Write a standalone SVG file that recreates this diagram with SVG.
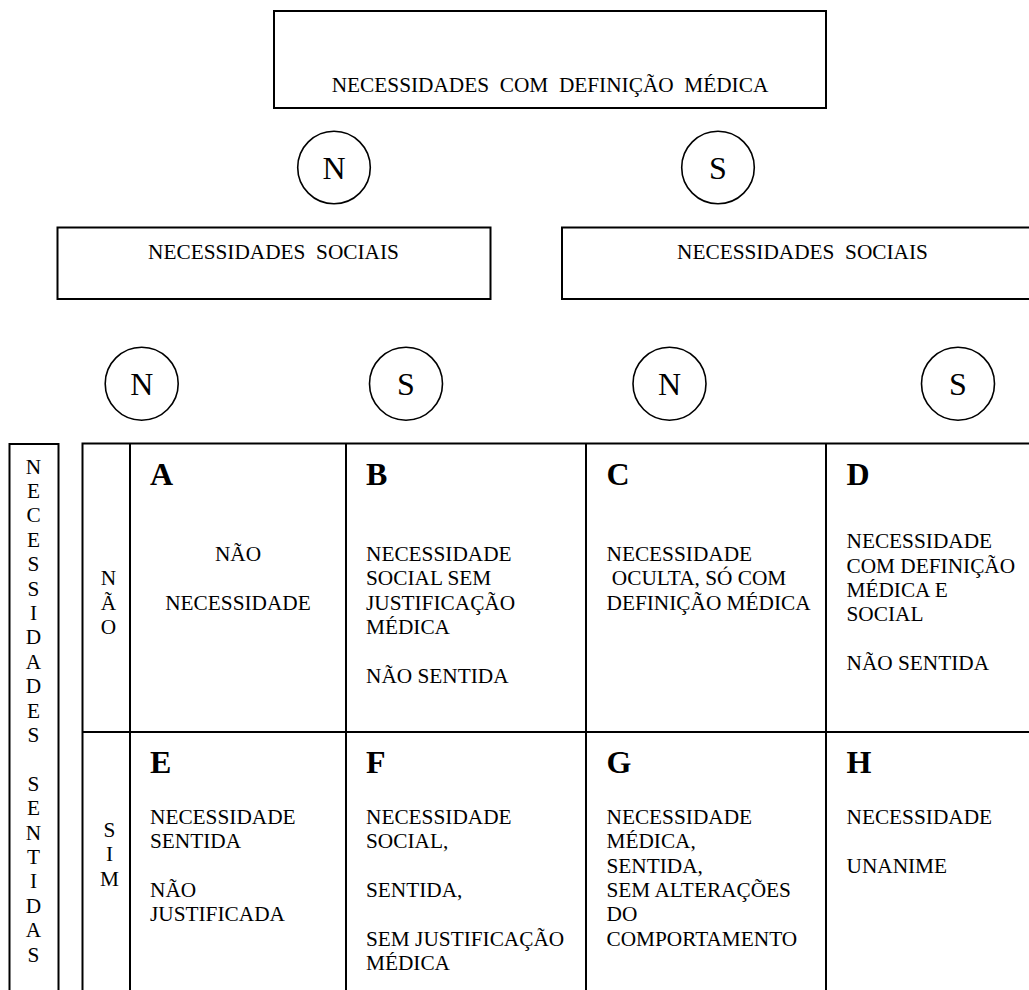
<svg xmlns="http://www.w3.org/2000/svg" width="1029" height="990" viewBox="0 0 1029 990">
  <style>
    text { font-family: "Liberation Serif", "Times New Roman", serif; font-size: 21.3px; fill: #000; }
    .box { fill: #fff; stroke: #000; stroke-width: 2; }
    .ring { fill: #fff; stroke: #000; stroke-width: 1.6; }
    .grid { fill: none; stroke: #000; stroke-width: 2; }
    .big { font-size: 32px; }
    .letter { font-size: 32px; font-weight: bold; }
    .mid { text-anchor: middle; }
  </style>

  <rect width="1029" height="990" fill="#fff"/>

  <!-- top level: medical definition -->
  <g id="medical">
    <rect class="box" x="274" y="11" width="552" height="97"/>
    <text class="mid" x="550" y="91.5" xml:space="preserve">NECESSIDADES  COM  DEFINIÇÃO  MÉDICA</text>
  </g>

  <g id="medical-n">
    <circle class="ring" cx="334" cy="167.5" r="36.3"/>
    <text class="big mid" x="334" y="178.5">N</text>
  </g>
  <g id="medical-s">
    <circle class="ring" cx="718" cy="167.5" r="36.3"/>
    <text class="big mid" x="718" y="178.5">S</text>
  </g>

  <!-- second level: social needs -->
  <g id="social-left">
    <rect class="box" x="57.5" y="227.5" width="433" height="71.5"/>
    <text class="mid" x="273.5" y="258.5" xml:space="preserve">NECESSIDADES  SOCIAIS</text>
  </g>
  <g id="social-right">
    <rect class="box" x="562" y="227.5" width="490" height="71.5"/>
    <text class="mid" x="802.5" y="258.5" xml:space="preserve">NECESSIDADES  SOCIAIS</text>
  </g>

  <g id="social-n1">
    <circle class="ring" cx="141.7" cy="383.7" r="36.5"/>
    <text class="big mid" x="141.7" y="394.8">N</text>
  </g>
  <g id="social-s1">
    <circle class="ring" cx="406" cy="383.7" r="36.5"/>
    <text class="big mid" x="406" y="394.8">S</text>
  </g>
  <g id="social-n2">
    <circle class="ring" cx="669.5" cy="383.7" r="36.5"/>
    <text class="big mid" x="669.5" y="394.8">N</text>
  </g>
  <g id="social-s2">
    <circle class="ring" cx="958" cy="383.7" r="36.5"/>
    <text class="big mid" x="958" y="394.8">S</text>
  </g>

  <!-- felt needs, vertical side label -->
  <g id="felt-needs">
    <rect class="box" x="9.5" y="444" width="49" height="560"/>
    <g class="mid">
      <text x="33.5" y="473.5">N</text>
      <text x="33.5" y="497.9">E</text>
      <text x="33.5" y="522.3">C</text>
      <text x="33.5" y="546.7">E</text>
      <text x="33.5" y="571.1">S</text>
      <text x="33.5" y="595.5">S</text>
      <text x="33.5" y="619.9">I</text>
      <text x="33.5" y="644.3">D</text>
      <text x="33.5" y="668.7">A</text>
      <text x="33.5" y="693.1">D</text>
      <text x="33.5" y="717.5">E</text>
      <text x="33.5" y="741.9">S</text>
      <text x="33.5" y="790.7">S</text>
      <text x="33.5" y="815.1">E</text>
      <text x="33.5" y="839.5">N</text>
      <text x="33.5" y="863.9">T</text>
      <text x="33.5" y="888.3">I</text>
      <text x="33.5" y="912.7">D</text>
      <text x="33.5" y="937.1">A</text>
      <text x="33.5" y="961.5">S</text>
    </g>
  </g>

  <!-- classification grid -->
  <g id="grid">
    <rect class="grid" x="82.5" y="443.5" width="970" height="560"/>
    <line class="grid" x1="130" y1="443.5" x2="130" y2="1004"/>
    <line class="grid" x1="346" y1="443.5" x2="346" y2="1004"/>
    <line class="grid" x1="586" y1="443.5" x2="586" y2="1004"/>
    <line class="grid" x1="826" y1="443.5" x2="826" y2="1004"/>
    <line class="grid" x1="82.5" y1="732" x2="1052" y2="732"/>
  </g>

  <g id="row-nao">
    <text class="mid" x="108.5" y="585">N</text>
    <text class="mid" x="108.5" y="609.5">Ã</text>
    <text class="mid" x="108.5" y="633.5">O</text>
  </g>
  <g id="row-sim">
    <text class="mid" x="109.5" y="836.5">S</text>
    <text class="mid" x="109.5" y="860.5">I</text>
    <text class="mid" x="109.5" y="885.5">M</text>
  </g>

  <g id="cell-a">
    <text class="letter" x="150" y="485">A</text>
    <text class="mid" x="238" y="561">NÃO</text>
    <text class="mid" x="238" y="610">NECESSIDADE</text>
  </g>
  <g id="cell-b">
    <text class="letter" x="366" y="485">B</text>
    <text x="366" y="561">NECESSIDADE</text>
    <text x="366" y="585.3">SOCIAL SEM</text>
    <text x="366" y="609.7">JUSTIFICAÇÃO</text>
    <text x="366" y="634">MÉDICA</text>
    <text x="366" y="682.5">NÃO SENTIDA</text>
  </g>
  <g id="cell-c">
    <text class="letter" x="606.5" y="485">C</text>
    <text x="606.5" y="561">NECESSIDADE</text>
    <text x="606.5" y="585.3" xml:space="preserve"> OCULTA, SÓ COM</text>
    <text x="606.5" y="609.7">DEFINIÇÃO MÉDICA</text>
  </g>
  <g id="cell-d">
    <text class="letter" x="846.5" y="485">D</text>
    <text x="846.5" y="548.3">NECESSIDADE</text>
    <text x="846.5" y="572.6">COM DEFINIÇÃO</text>
    <text x="846.5" y="597">MÉDICA E</text>
    <text x="846.5" y="621.3">SOCIAL</text>
    <text x="846.5" y="670">NÃO SENTIDA</text>
  </g>

  <g id="cell-e">
    <text class="letter" x="150" y="773">E</text>
    <text x="150" y="824">NECESSIDADE</text>
    <text x="150" y="848.3">SENTIDA</text>
    <text x="150" y="897">NÃO</text>
    <text x="150" y="921.3">JUSTIFICADA</text>
  </g>
  <g id="cell-f">
    <text class="letter" x="366" y="773">F</text>
    <text x="366" y="824">NECESSIDADE</text>
    <text x="366" y="848.3">SOCIAL,</text>
    <text x="366" y="897">SENTIDA,</text>
    <text x="366" y="945.6">SEM JUSTIFICAÇÃO</text>
    <text x="366" y="970">MÉDICA</text>
  </g>
  <g id="cell-g">
    <text class="letter" x="606.5" y="773">G</text>
    <text x="606.5" y="824">NECESSIDADE</text>
    <text x="606.5" y="848.3">MÉDICA,</text>
    <text x="606.5" y="872.6">SENTIDA,</text>
    <text x="606.5" y="897">SEM ALTERAÇÕES</text>
    <text x="606.5" y="921.3">DO</text>
    <text x="606.5" y="945.6">COMPORTAMENTO</text>
  </g>
  <g id="cell-h">
    <text class="letter" x="846.5" y="773">H</text>
    <text x="846.5" y="824">NECESSIDADE</text>
    <text x="846.5" y="872.6">UNANIME</text>
  </g>

  <g id="connectors"/>
</svg>
